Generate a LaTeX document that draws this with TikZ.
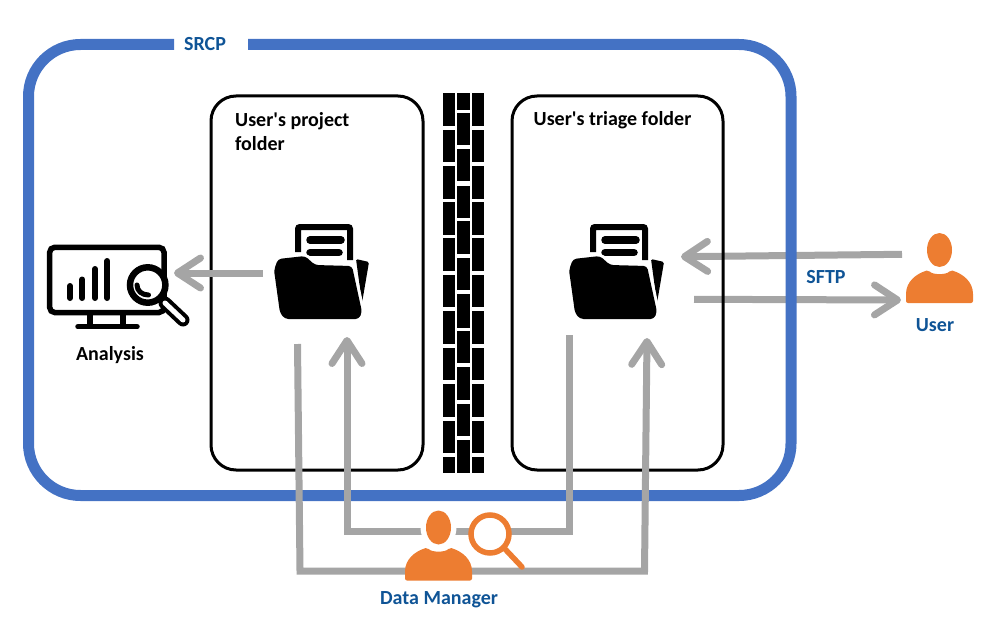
\documentclass[tikz,border=0pt]{standalone}
\usepackage{fontspec}
\setmainfont{Carlito}
\usepackage{tikz}
\usetikzlibrary{arrows.meta,positioning,calc}
\definecolor{framebluec}{HTML}{4472C4}
\definecolor{labelbluec}{HTML}{0F5496}
\definecolor{arrowgrayc}{HTML}{A5A5A5}
\definecolor{personorangec}{HTML}{ED7D31}

\begin{document}
\begin{tikzpicture}[
        x=1pt, y=-1pt,
        every node/.style={font=\fontsize{20}{24}\selectfont\bfseries, inner sep=0pt},
        bluelabel/.style={text=labelbluec},
        folderbox/.style={draw, line width=3pt, rounded corners=25pt},
        flow/.style={draw=arrowgrayc, line width=7pt, line join=miter},
        flowtip/.style={flow, -{Straight Barb[round, length=23pt, width=30pt]}},
        brick/.style={fill=black},
        foldericon/.pic={
            \draw[line width=6pt, fill=white, rounded corners=2pt] (38,37) -- (38,12) -- (90,12) -- (90,45);
            \draw[line width=7.5pt, line cap=round] (50,25) -- (81,25);
            \draw[line width=7.5pt, line cap=round] (50,37.7) -- (79,37.7);
            \fill[rounded corners=1.5pt] (96,44) -- (109,47) -- (102,88) -- cycle;
            \def\folderpath{(14,55) -- (18,44) -- (45,41) -- (55,50) -- (92,51) -- (102,97)
                -- (99,104) -- (25,104) -- (20,98) -- cycle}
            \draw[draw=white, line width=6pt, rounded corners=3.5pt] \folderpath;
            \fill[rounded corners=3.5pt] \folderpath;
        },
        monitoricon/.pic={
            \draw[line width=5.5pt, rounded corners=5pt] (9.7,12.3) rectangle (124,77.5);
            \draw[line width=5.5pt] (50,78) -- (50,91) (83,78) -- (83,91);
            \draw[line width=5.5pt, line cap=round] (38,91.7) -- (97,91.7);
            \foreach \barx/\bartop in {30/51, 42.3/44.5, 55/34, 67.3/26}
                \draw[line width=6pt, line cap=round] (\barx,\bartop) -- (\barx,63);
            \draw[line width=13pt, line cap=round] (125,68) -- (143,85);
            \draw[line width=5pt, white, line cap=round] (125,68) -- (143,85);
            \draw[line width=6.5pt, fill=white] (107.7,50) circle[radius=17.7pt];
            \draw[line width=5pt, line cap=round] (97,50) .. controls (97,56) and (102,60) .. (108.5,60);
        },
        personicon/.pic={
            \fill[white] (0,0) ellipse[x radius=18pt, y radius=22pt];
            \fill[personorangec, rounded corners=2pt] (-33.5,53) -- (-33.5,46)
                .. controls (-33.5,32) and (-24,24) .. (-11,20)
                .. controls (-7,25) and (7,25) .. (11,20)
                .. controls (24,24) and (33.5,32) .. (33.5,46)
                -- (33.5,53) -- cycle;
            \fill[personorangec] (0,0) ellipse[x radius=12.5pt, y radius=17pt];
        },
    ]
        \useasboundingbox (0,0) rectangle (998,623);

        % --- Arrow end points ---
        \coordinate (userout)    at (902,254.3);
        \coordinate (triagein)   at (681,256.7);
        \coordinate (triageout)  at (694,299.3);
        \coordinate (userin)     at (901,300);
        \coordinate (projectout) at (263,273);
        \coordinate (analysisin) at (174,273);
        \coordinate (dmupleft)   at (347,337);
        \coordinate (dmupright)  at (569.5,335);
        \coordinate (dmlowleft)  at (297.5,344);
        \coordinate (dmlowright) at (647,338);

        % --- SFTP arrows (behind the frame) ---
        \draw[flowtip] (userout) -- (triagein);
        \draw[flowtip] (triageout) -- (userin);

        % --- SRCP boundary ---
        \draw[framebluec, line width=11pt, rounded corners=52pt]
            (248,44.5) -- (791,44.5) -- (791,495.5) -- (28.5,495.5) -- (28.5,44.5) -- (174,44.5);
        \node[bluelabel] (srcp) at (205,44.5) {SRCP};

        % --- Folders ---
        \node[folderbox, minimum width=212pt, minimum height=374pt] (projectbox) at (317,283) {};
        \node[folderbox, minimum width=211pt, minimum height=374pt] (triagebox)  at (617.5,283) {};
        \node[anchor=west, align=left] (projectlabel) at (235,132) {User\textquotesingle s project\\folder};
        \node[anchor=west] (triagelabel) at (533.5,120) {User\textquotesingle s triage folder};

        % --- Wall ---
        \foreach \ytop/\ybot in {93/126, 130/162, 166/199, 202/235, 238/271, 275/307,
                311/344, 348/380, 384/417, 421/453, 457/473} {
            \fill[brick] (443,\ytop) rectangle (455,\ybot);
            \fill[brick] (472,\ytop) rectangle (484,\ybot);
        }
        \foreach \ytop/\ybot in {93/110, 113/145, 149/181, 186/218, 221/254, 258/290,
                294/328, 331/363, 367/400, 404/436, 440/473}
            \fill[brick] (457,\ytop) rectangle (470,\ybot);

        % --- Icons ---
        \pic (projectfolder) at (260,215) {foldericon};
        \pic (triagefolder)  at (555,215) {foldericon};
        \pic (analysisicon)  at (40,235)  {monitoricon};

        % --- Arrows ---
        \draw[flowtip] (projectout) -- (analysisin);
        \draw[flowtip] (dmupright) -- (569.5,531.5) -- (347,531.5) -- (dmupleft);
        \draw[flowtip] (dmlowleft) -- (300,571) -- (644.5,571) -- (dmlowright);

        % --- People ---
        \pic (datamanager) at (438.5,527.5) {personicon};
        \pic (user)        at (939.5,250)   {personicon};
        \draw[personorangec, line width=5.5pt, line cap=round] (505,549) -- (522,567);
        \draw[personorangec, line width=5.5pt, fill=white] (490,534) circle[radius=19pt];

        % --- Labels ---
        \node (analysislabel) at (110,355.5) {Analysis};
        \node[bluelabel] (sftplabel) at (826,277.5) {SFTP};
        \node[bluelabel] (userlabel) at (935,325.5) {User};
        \node[bluelabel] (dmlabel)   at (439,600) {Data Manager};
\end{tikzpicture}
\end{document}
